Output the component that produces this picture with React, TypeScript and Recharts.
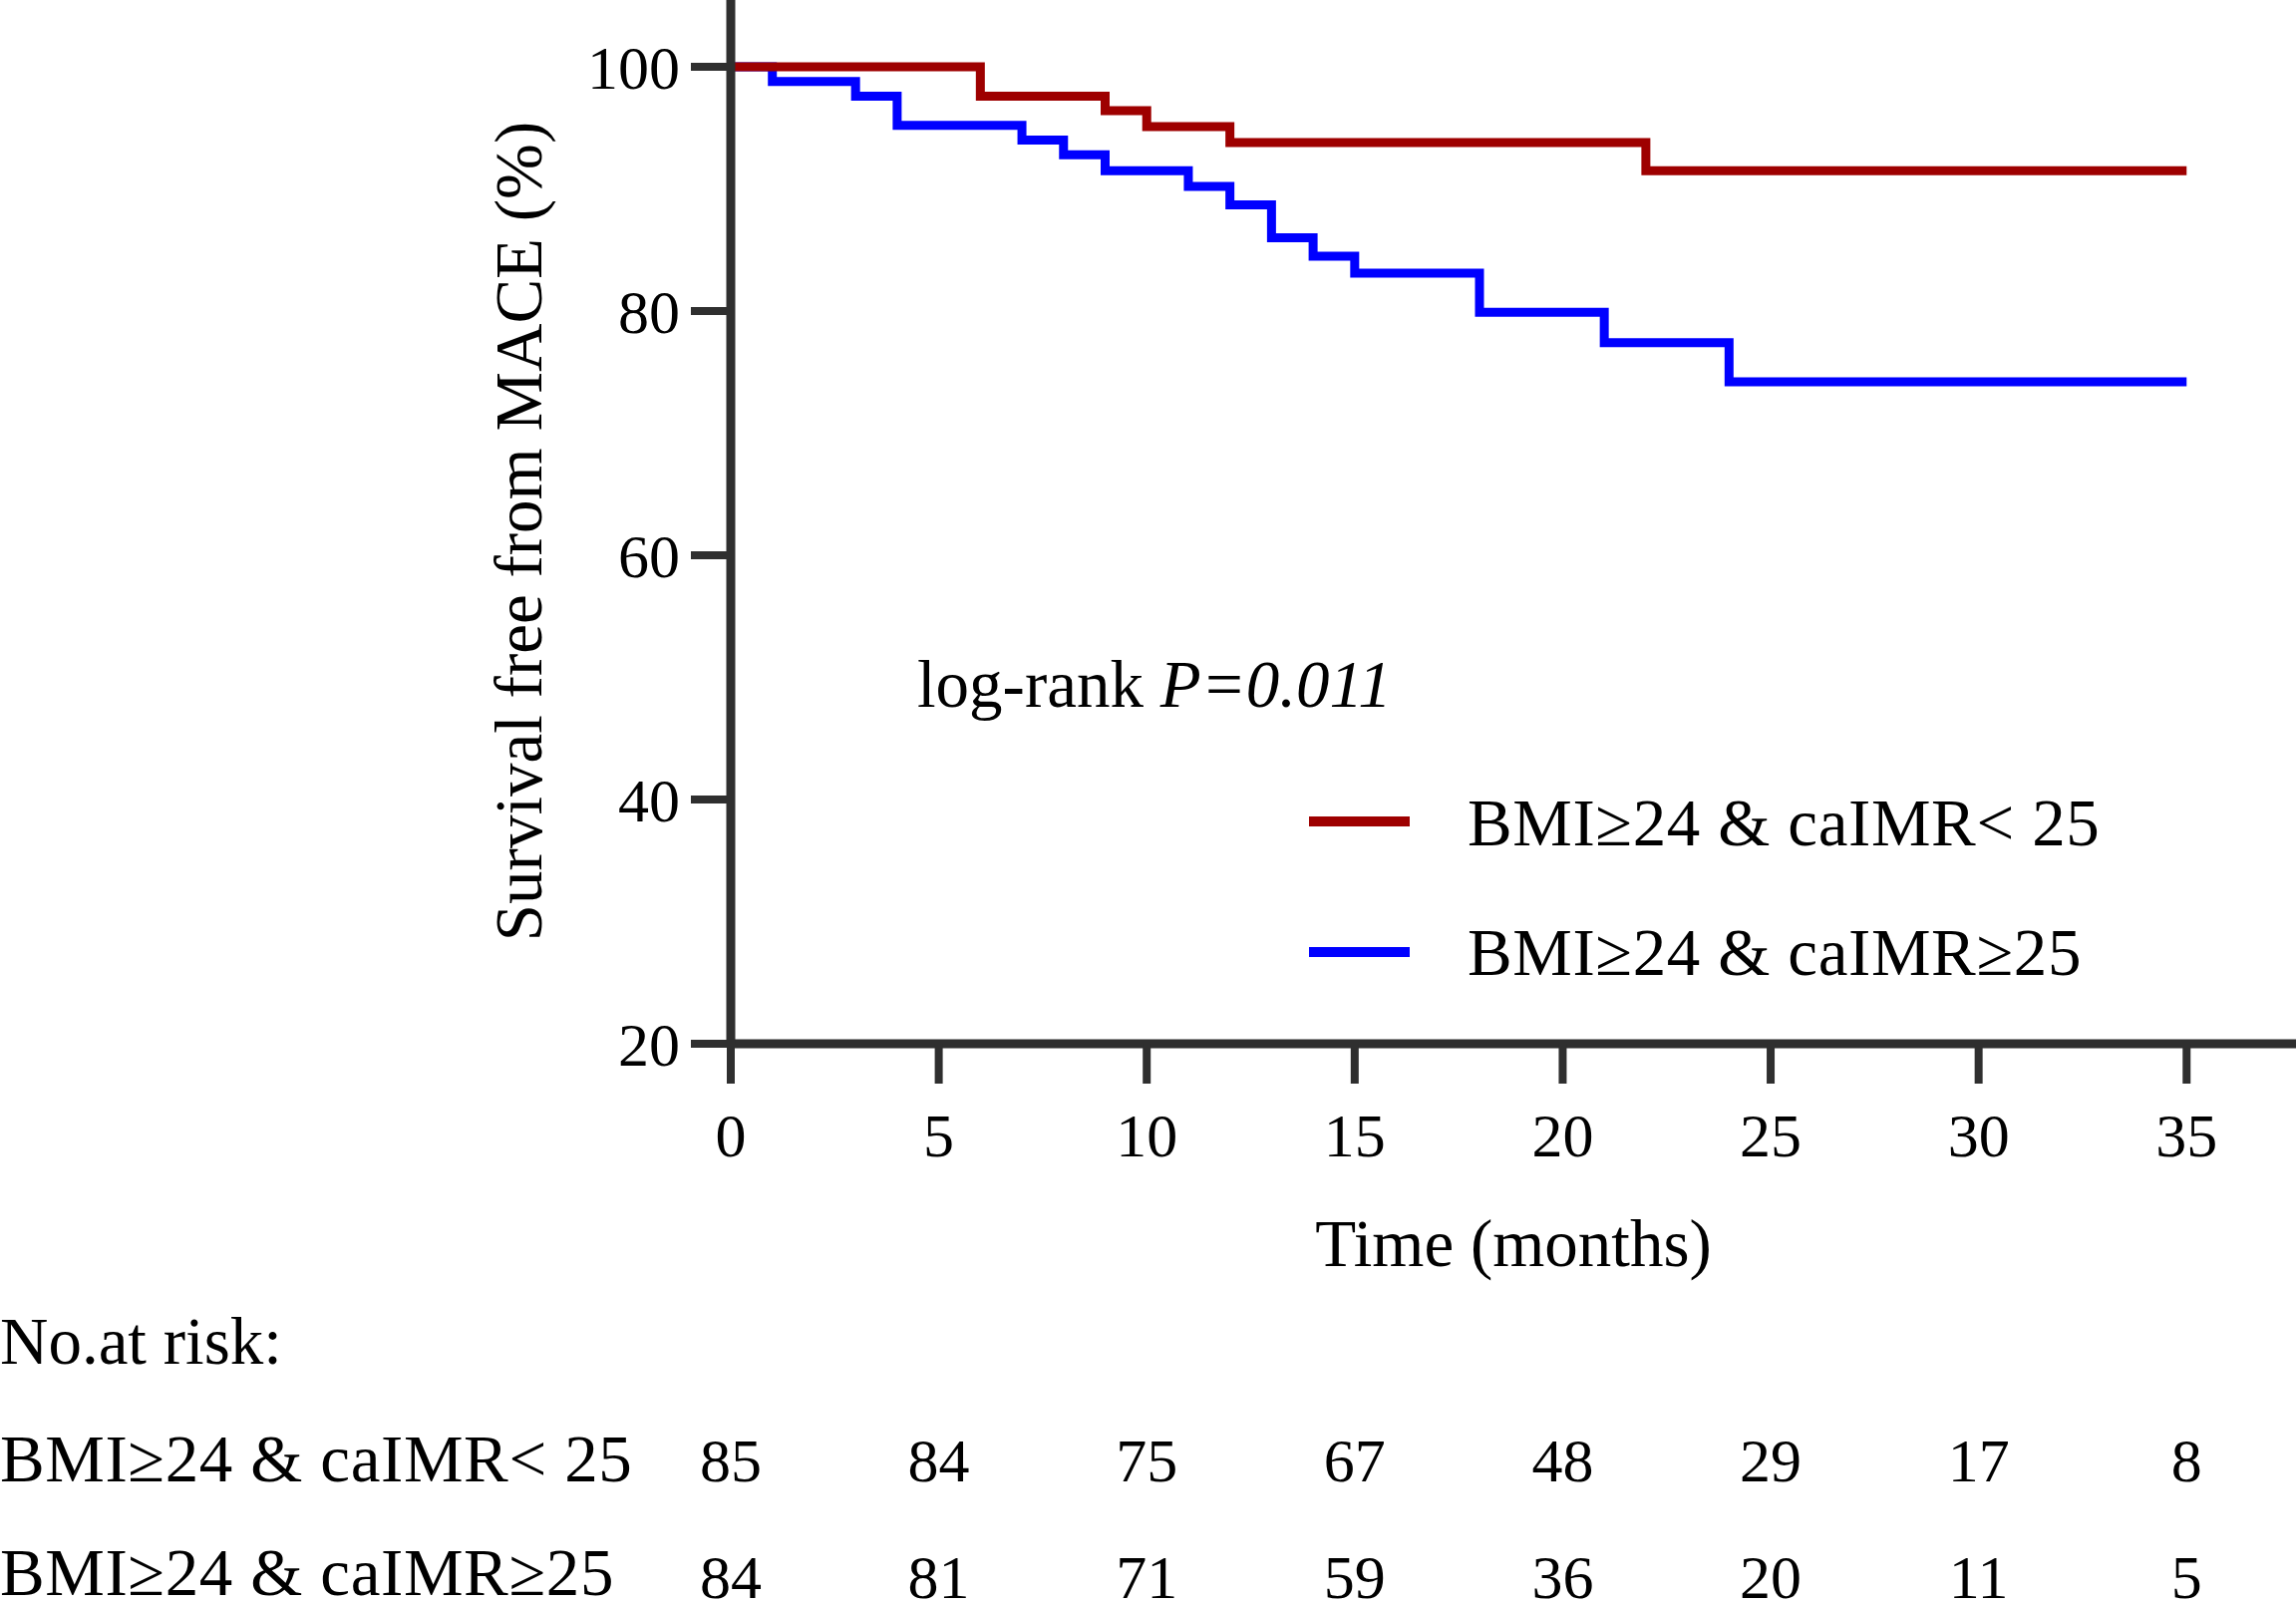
import React from "react";
import {
  LineChart,
  Line,
  XAxis,
  YAxis,
  ScatterChart,
  Scatter,
} from "recharts";

// Kaplan-Meier steps (time in months, survival %)
const lowTimes = [0, 6, 9, 10, 12, 22, 35];
const lowSurv = [100, 97.6, 96.4, 95.1, 93.8, 91.5, 91.5];
const highTimes = [0, 1, 3, 4, 7, 8, 9, 11, 12, 13, 14, 15, 18, 21, 24, 35];
const highSurv = [100, 98.8, 97.6, 95.2, 94.0, 92.8, 91.5, 90.2, 88.7, 86.0, 84.5, 83.1, 79.9, 77.4, 74.2, 74.2];

const xTicks = [0, 5, 10, 15, 20, 25, 30, 35];
const yTicks = [20, 40, 60, 80, 100];

// numbers at risk
const riskTimes = [0, 5, 10, 15, 20, 25, 30, 35];
const riskLow = [85, 84, 75, 67, 48, 29, 17, 8];
const riskHigh = [84, 81, 71, 59, 36, 20, 11, 5];
const rowLabels = ["No.at risk:", "BMI\u226524 & caIMR< 25", "BMI\u226524 & caIMR\u226525"];

const seriesNames = ["BMI\u226524 & caIMR< 25", "BMI\u226524 & caIMR\u226525"];
const RED = "#9E0000";
const BLUE = "#0000FF";
const AXIS = "#2F2F2F";
const FONT = '"Liberation Serif", "Times New Roman", serif';
const WORD = 67;
const NUM = 62;

const lowData = lowTimes.map((t, i) => ({ t, s: lowSurv[i] }));
const highData = highTimes.map((t, i) => ({ t, s: highSurv[i] }));
const riskRow1 = riskTimes.map((t, i) => ({ t, row: 1, n: riskLow[i] }));
const riskRow2 = riskTimes.map((t, i) => ({ t, row: 2, n: riskHigh[i] }));

const X_DOMAIN: [number, number] = [0, 37.63];

const RiskNumber = (p: any) => (
  <text x={p.cx} y={p.cy} textAnchor="middle" fontSize={NUM} fontFamily={FONT} fill="#000">
    {p.payload.n}
  </text>
);

const RowLabel = (p: any) => (
  <text
    x={0}
    y={p.y}
    textAnchor="start"
    fontSize={WORD}
    letterSpacing={p.payload.value === 0 ? 0 : 0.6}
    fontFamily={FONT}
    fill="#000"
  >
    {rowLabels[p.payload.value]}
  </text>
);

export default function App() {
  return (
    <div style={{ position: "absolute", left: 0, top: 0, width: 2303, height: 1609, background: "#fff" }}>
      <LineChart width={2303} height={1300} margin={{ top: 0, right: 0, bottom: 0, left: 0 }}>
        <XAxis
          dataKey="t"
          type="number"
          domain={X_DOMAIN}
          ticks={xTicks}
          height={253}
          tickSize={40}
          tickMargin={29}
          axisLine={{ stroke: AXIS, strokeWidth: 9 }}
          tickLine={{ stroke: AXIS, strokeWidth: 8 }}
          tick={{ fill: "#000", fontSize: NUM, fontFamily: FONT }}
          label={{ value: "Time (months)", position: "insideBottom", offset: 30, fill: "#000", fontSize: WORD, fontFamily: FONT }}
        />
        <YAxis
          type="number"
          domain={[20, 105.47]}
          ticks={yTicks}
          allowDataOverflow
          width={733}
          tickSize={40}
          tickMargin={11}
          axisLine={{ stroke: AXIS, strokeWidth: 9 }}
          tickLine={{ stroke: AXIS, strokeWidth: 8 }}
          tick={{ fill: "#000", fontSize: NUM, fontFamily: FONT }}
        />
        <Line
          data={highData}
          dataKey="s"
          name={seriesNames[1]}
          type="stepAfter"
          stroke={BLUE}
          strokeWidth={9}
          strokeLinejoin="miter"
          dot={false}
          isAnimationActive={false}
        />
        <Line
          data={lowData}
          dataKey="s"
          name={seriesNames[0]}
          type="stepAfter"
          stroke={RED}
          strokeWidth={9}
          strokeLinejoin="miter"
          dot={false}
          isAnimationActive={false}
        />
      </LineChart>

      <div style={{ position: "absolute", left: 0, top: 1300 }}>
        <ScatterChart width={2303} height={309} margin={{ top: 0, right: 0, bottom: 0, left: 0 }}>
          <XAxis dataKey="t" type="number" domain={X_DOMAIN} hide />
          <YAxis
            dataKey="row"
            type="number"
            domain={[-0.58, 2.05]}
            ticks={[0, 1, 2]}
            reversed
            width={733}
            axisLine={false}
            tickLine={false}
            tick={RowLabel}
          />
          <Scatter data={riskRow1} shape={RiskNumber} isAnimationActive={false} />
          <Scatter data={riskRow2} shape={RiskNumber} isAnimationActive={false} />
        </ScatterChart>
      </div>

      <svg
        width={2303}
        height={1300}
        style={{ position: "absolute", left: 0, top: 0, pointerEvents: "none" }}
      >
        <text
          transform="translate(543,533) rotate(-90)"
          textAnchor="middle"
          fontSize={WORD}
          fontFamily={FONT}
          fill="#000"
        >
          Survival free from MACE (%)
        </text>
        <text x={920} y={709} fontSize={WORD} fontFamily={FONT} fill="#000">
          log-rank <tspan fontStyle="italic">P=0.011</tspan>
        </text>
        <line x1={1313} x2={1414} y1={824} y2={824} stroke={RED} strokeWidth={10} />
        <text x={1472} y={848} fontSize={WORD} letterSpacing={0.6} fontFamily={FONT} fill="#000">
          {seriesNames[0]}
        </text>
        <line x1={1313} x2={1414} y1={955} y2={955} stroke={BLUE} strokeWidth={10} />
        <text x={1472} y={978} fontSize={WORD} letterSpacing={0.6} fontFamily={FONT} fill="#000">
          {seriesNames[1]}
        </text>
      </svg>
    </div>
  );
}
